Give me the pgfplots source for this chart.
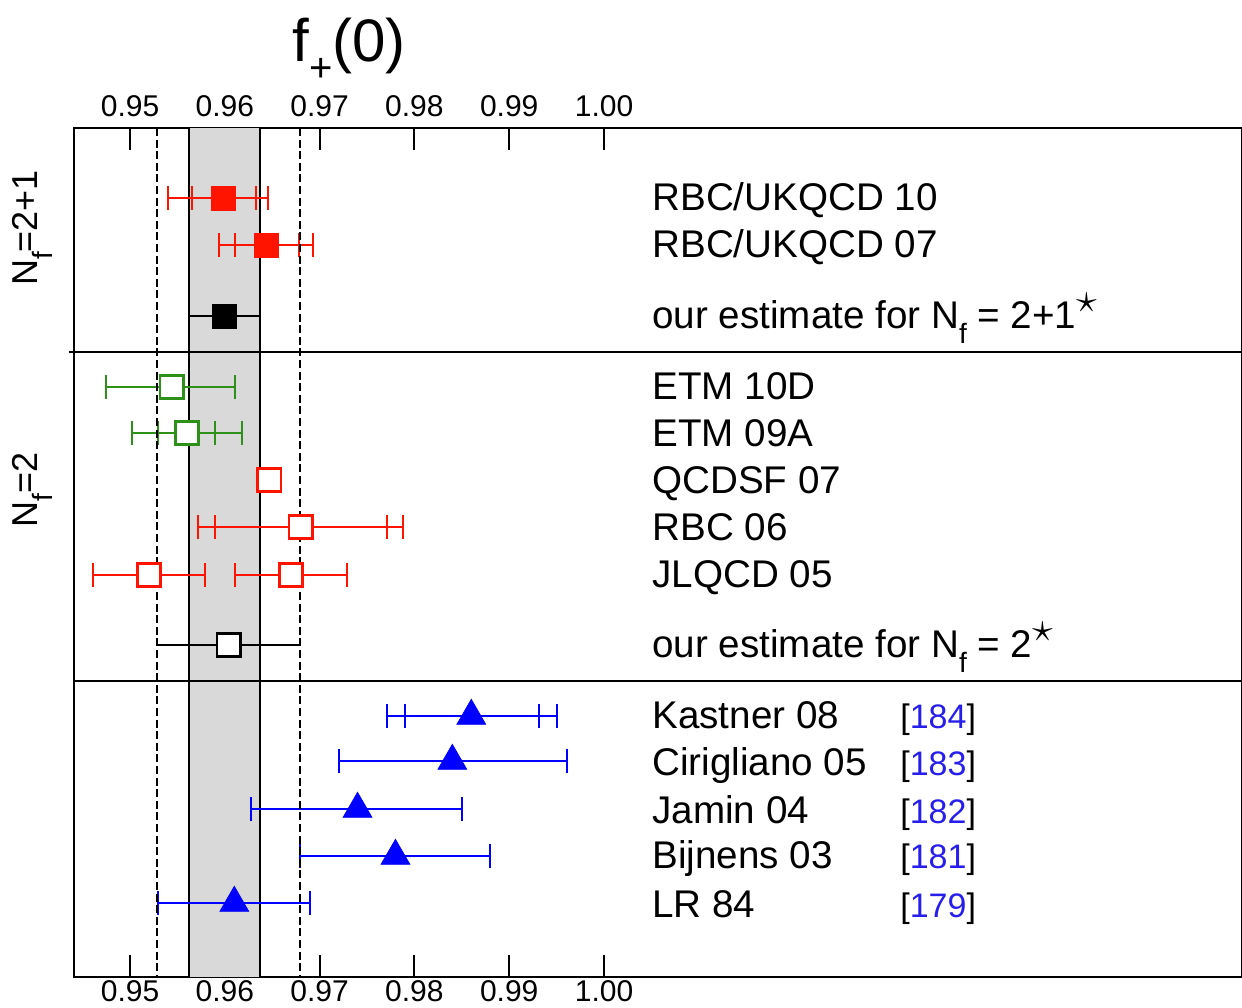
\documentclass[border=0pt]{standalone}
\usepackage{fontspec}
\setmainfont{Liberation Sans}
\usepackage{pgfplots}
\pgfplotsset{compat=1.18}
\definecolor{myred}{RGB}{255,20,0}
\definecolor{mygreen}{RGB}{45,145,25}
\definecolor{myblue}{RGB}{0,0,255}
\definecolor{refblue}{RGB}{40,30,235}
\definecolor{bandgray}{RGB}{217,217,217}

\newcommand{\lab}{\fontsize{19.3}{21}\selectfont}
\newcommand{\Nf}{N\raisebox{-7.5pt}{\fontsize{14}{14}\selectfont f}}
\newcommand{\rf}[1]{{\fontsize{17}{18}\selectfont[\textcolor{refblue}{#1}]}}
\newcommand{\st}{\raisebox{8pt}{\fontsize{22}{22}\selectfont$\star$}}

\pgfplotsset{
  ebar/.style={only marks, mark=none, line width=1pt,
    error bars/.cd, x dir=both, x explicit,
    error bar style={line width=1pt},
    error mark options={rotate=90, mark size=6pt, line width=1pt},
    /pgfplots/.cd},
  ebarnocap/.style={only marks, mark=none, line width=1pt,
    error bars/.cd, x dir=both, x explicit,
    error bar style={line width=1pt}, error mark=none,
    /pgfplots/.cd},
}

\begin{document}
\begin{tikzpicture}[x=1pt,y=1pt]
\useasboundingbox (0,0) rectangle (621,503.5);
\begin{axis}[
  at={(37pt,15pt)}, anchor=south west,
  scale only axis, width=584pt, height=424.5pt,
  xmin=0.94409, xmax=1.0673, ymin=128, ymax=977, y dir=reverse,
  clip=false,
  axis line style={line width=1pt},
  xtick={0.95,0.96,0.97,0.98,0.99,1.00},
  xticklabels={0.95,0.96,0.97,0.98,0.99,1.00},
  xtick pos=both, xticklabel pos=lower,
  tick align=inside, major tick length=11pt,
  xtick style={line width=1pt, black},
  ytick=\empty,
  ticklabel style={font=\fontsize{15}{15}\selectfont, yshift=2pt},
]
% band
\addplot[fill=bandgray, draw=none] coordinates {(0.9562,128) (0.9637,128) (0.9637,977) (0.9562,977)} -- cycle;
\addplot[black, line width=1pt] coordinates {(0.9562,128) (0.9562,977)};
\addplot[black, line width=1pt] coordinates {(0.9637,128) (0.9637,977)};
% separators
\addplot[black, line width=1pt] coordinates {(0.94356,352) (1.0673,352)};
\addplot[black, line width=1pt] coordinates {(0.94409,681) (1.0673,681)};

% red error bars
\addplot[myred, ebar] table[x=x, y=y, x error plus=ep, x error minus=em] {
x y ep em
0.9599 198 0.0047 0.0059
0.9644 245 0.0049 0.0050
0.9680 527 0.0108 0.0108
0.9520 575 0.0059 0.0059
0.9670 575 0.0059 0.0059
};
\addplot[myred, ebar] table[x=x, y=y, x error plus=ep, x error minus=em] {
x y ep em
0.9599 198 0.0034 0.0034
0.9644 245 0.0034 0.0033
0.9680 527 0.0091 0.0090
};
% green error bars
\addplot[mygreen, ebar] table[x=x, y=y, x error plus=ep, x error minus=em] {
x y ep em
0.9544 387 0.0067 0.0069
0.9560 433 0.0058 0.0058
};
\addplot[mygreen, ebar] table[x=x, y=y, x error plus=ep, x error minus=em] {
x y ep em
0.9560 433 0.0030 0.0030
};
% black estimates
\addplot[black, ebarnocap] table[x=x, y=y, x error plus=ep, x error minus=em] {
x y ep em
0.9600 316 0.0037 0.0038
0.9604 645 0.0075 0.0076
};
% blue
\addplot[myblue, ebar] table[x=x, y=y, x error plus=ep, x error minus=em] {
x y ep em
0.9860 716 0.0090 0.0089
0.9840 761 0.0121 0.0120
0.9740 809 0.0110 0.0112
0.9780 856 0.0100 0.0101
0.9610 903 0.0080 0.0081
};
\addplot[myblue, ebar] table[x=x, y=y, x error plus=ep, x error minus=em] {
x y ep em
0.9860 716 0.0071 0.0070
};

% markers
\addplot[only marks, mark=square*, mark size=6pt, myred, mark options={fill=myred}] coordinates {(0.9599,198) (0.9644,245)};
\addplot[only marks, mark=square*, mark size=6pt, black, mark options={fill=black}] coordinates {(0.9600,316)};
\addplot[only marks, mark=square*, mark size=5.8pt, mygreen, mark options={fill=white, line width=1.3pt}] coordinates {(0.9544,387) (0.9560,433)};
\addplot[only marks, mark=square*, mark size=5.8pt, myred, mark options={fill=white, line width=1.3pt}] coordinates {(0.9647,480) (0.9680,527) (0.9520,575) (0.9670,575)};
\addplot[only marks, mark=square*, mark size=5.8pt, black, mark options={fill=white, line width=1.3pt}] coordinates {(0.9604,645)};
\addplot[only marks, mark=triangle*, mark size=8.3pt, myblue, mark options={fill=myblue}] coordinates {(0.9860,716) (0.9840,761) (0.9740,809) (0.9780,856) (0.9610,903)};

% dashed lines
\addplot[black, line width=1pt, dash pattern=on 4pt off 1.8pt] coordinates {(0.9528,128) (0.9528,977)};
\addplot[black, line width=1pt, dash pattern=on 4pt off 1.8pt] coordinates {(0.9679,128) (0.9679,977)};

% labels
\begin{scope}[every node/.style={anchor=base west, inner sep=0pt, font=\lab}]
\node at (axis cs:1.00506,210.5) {RBC/UKQCD 10};
\node at (axis cs:1.00506,257) {RBC/UKQCD 07};
\node at (axis cs:1.00506,328) {our estimate for \Nf{} = 2+1\st};
\node at (axis cs:1.00506,399) {ETM 10D};
\node at (axis cs:1.00506,446) {ETM 09A};
\node at (axis cs:1.00506,493) {QCDSF 07};
\node at (axis cs:1.00506,540) {RBC 06};
\node at (axis cs:1.00506,587) {JLQCD 05};
\node at (axis cs:1.00506,657) {our estimate for \Nf{} = 2\st};
\node at (axis cs:1.00506,728) {Kastner 08};
\node at (axis cs:1.00506,775) {Cirigliano 05};
\node at (axis cs:1.00506,823) {Jamin 04};
\node at (axis cs:1.00506,868) {Bijnens 03};
\node at (axis cs:1.00506,917) {LR 84};
\node at (axis cs:1.03122,728) {\rf{184}};
\node at (axis cs:1.03122,775) {\rf{183}};
\node at (axis cs:1.03122,823) {\rf{182}};
\node at (axis cs:1.03122,868) {\rf{181}};
\node at (axis cs:1.03122,917) {\rf{179}};
\end{scope}
\end{axis}
\begin{axis}[
  at={(37pt,15pt)}, anchor=south west,
  scale only axis, width=584pt, height=424.5pt,
  xmin=0.94409, xmax=1.0673, ymin=128, ymax=977, y dir=reverse,
  axis line style={draw=none},
  xtick={0.95,0.96,0.97,0.98,0.99,1.00},
  xticklabels={0.95,0.96,0.97,0.98,0.99,1.00},
  xtick pos=upper, xticklabel pos=upper,
  major tick length=0pt, xtick style={draw=none},
  ytick=\empty,
  ticklabel style={font=\fontsize{15}{15}\selectfont, yshift=2pt},
]
\addplot[draw=none] coordinates {(0.95,500)};
\end{axis}
% title
\node[anchor=base west, inner sep=0pt, font=\fontsize{30}{32}\selectfont] at (146,472.5) {f\raisebox{-10pt}{\fontsize{20}{20}\selectfont +}(0)};
% side labels
\node[rotate=90, inner sep=0pt, font=\fontsize{18}{20}\selectfont] at (16,389.5) {\Nf=2+1};
\node[rotate=90, inner sep=0pt, font=\fontsize{18}{20}\selectfont] at (16,258.5) {\Nf=2};
\end{tikzpicture}
\end{document}
